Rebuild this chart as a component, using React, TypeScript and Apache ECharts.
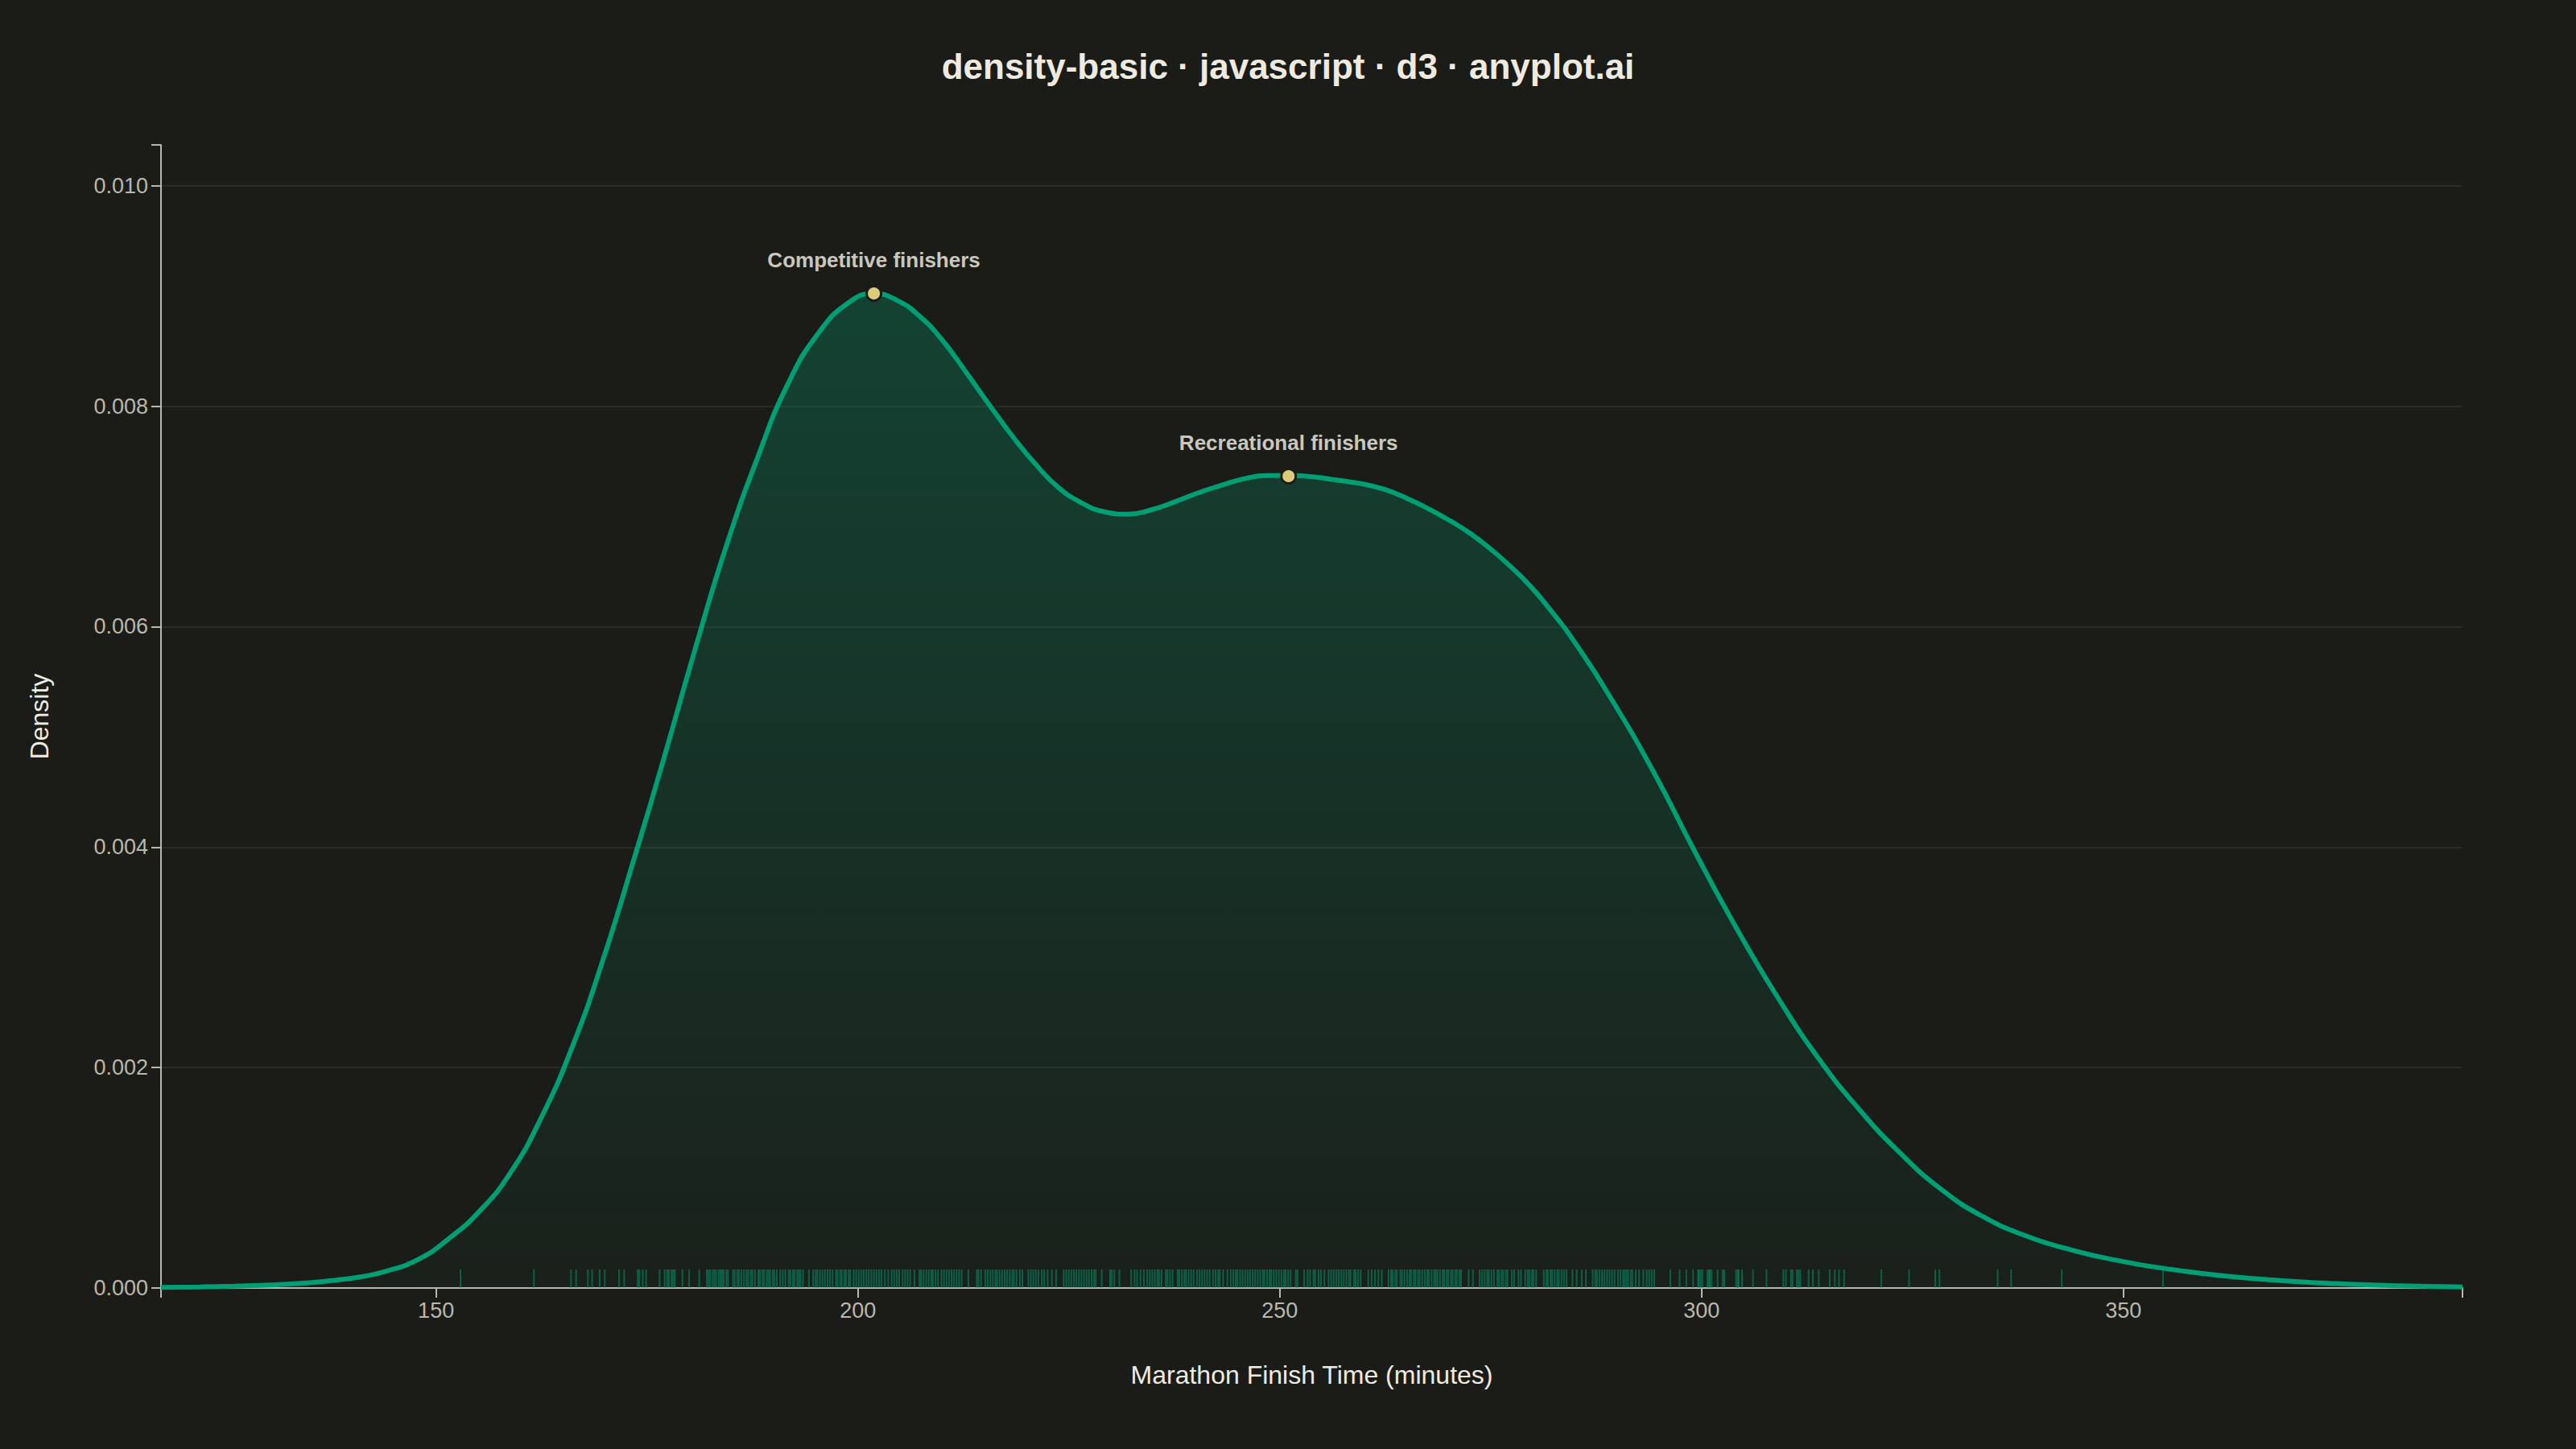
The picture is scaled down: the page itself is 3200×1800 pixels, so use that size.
import React, { useEffect, useRef } from "react";
import * as echarts from "echarts";

const FONT = '"Liberation Sans", Arial, Helvetica, sans-serif';
const BG = "#1b1c18";
const GREEN = "#009E73";

const TITLE = "density-basic · javascript · d3 · anyplot.ai";
const X_NAME = "Marathon Finish Time (minutes)";
const Y_NAME = "Density";

const X_MIN = 117.4;
const X_MAX = 390.2;
const Y_MAX = 0.01037;
const Y_STEP = 0.002;

// KDE curve (minutes, density)
const curveTimes = [
  117.4, 122, 126, 131, 135, 138, 141, 144, 147.9, 151.55, 155.2, 158.86,
  162.5, 166.16, 169.8, 173.5, 177.1, 180.8, 184.4, 188.1, 191.7, 195.4, 199.1, 201.9,
  204.65, 207.4, 210.1, 212.9, 215.6, 218.3, 221.1, 223.8, 226.6, 229.3, 232.0, 234.8,
  237.5, 240.2, 243.0, 245.7, 248.5, 251.0, 253.9, 256.7, 259.4, 262.2, 264.9, 267.6,
  270.2, 272.5, 274.9, 277.3, 279.8, 282.2, 284.6, 289.5, 294.4, 299.2, 304.1, 309.0,
  313.9, 318.7, 323.6, 328.5, 333.3, 338.2, 343.1, 348.6, 357.5, 366.3, 375.2, 383, 390.2,
];
const curveDensity = [
  0.000005, 0.00001, 0.000017, 0.00003, 0.000048, 0.00007, 0.0001, 0.00015, 0.00026, 0.00045, 0.0007, 0.00105,
  0.00155, 0.00219, 0.00298, 0.0039, 0.00483, 0.00582, 0.00673, 0.00753, 0.0082, 0.00867, 0.00895, 0.00902,
  0.00896, 0.00881, 0.00859, 0.0083, 0.00801, 0.00773, 0.00747, 0.00726, 0.00712, 0.00704, 0.00702, 0.00706,
  0.00713, 0.00721, 0.00728, 0.00734, 0.00737, 0.00737, 0.00736, 0.00733, 0.0073, 0.00725, 0.00717, 0.00707,
  0.00696, 0.00685, 0.00671, 0.00655, 0.00636, 0.00614, 0.0059, 0.00532, 0.00467, 0.00396, 0.00327, 0.00264,
  0.00208, 0.00162, 0.00122, 0.00089, 0.00065, 0.00048, 0.00036, 0.00026, 0.00015, 0.00008, 0.00004, 0.00002, 0.00001,
];

// Rug: individual finish times
const rugTimes = [
  152.9, 161.6, 166.0, 166.6, 168.0, 168.5, 169.4, 170.0, 171.7, 172.3, 173.9, 174.1, 174.5, 174.9, 176.5,
  177.1, 177.4, 177.6, 177.9, 178.1, 178.3, 179.2, 180.0, 181.2,
  182.1, 182.3, 182.5, 182.8, 183.0, 183.2, 183.5, 183.7, 183.9, 184.1, 184.4, 184.6,
  185.2, 185.4, 185.7, 185.9, 186.2, 186.5, 186.8, 187.0, 187.3, 187.5, 187.8,
  188.2, 188.4, 188.7, 188.9, 189.2, 189.4, 189.6, 189.9, 190.1, 190.4, 190.8, 191.1, 191.4,
  191.8, 192.0, 192.3, 192.5, 192.8, 193.0, 193.2, 193.5, 194.2, 194.7, 195.0, 195.2, 195.5, 195.8, 196.1,
  196.4, 196.7, 197.0, 197.4, 197.6, 197.9, 198.1, 198.4, 198.6, 198.9, 199.1,
  199.5, 199.8, 200.1, 200.4, 200.7, 201.0, 201.3, 201.6, 201.9, 202.2, 202.5, 202.8, 203.2, 203.6,
  204.0, 204.3, 204.6, 204.9, 205.3, 205.6, 205.9, 206.2, 206.7,
  207.3, 207.5, 207.8, 208.1, 208.4, 208.7, 208.9, 209.2, 209.5,
  209.9, 210.2, 210.5, 210.8, 211.1, 211.4, 211.7, 212.0, 212.3, 213.1,
  214.1, 214.3, 214.6, 215.1, 215.4, 215.7, 216.0, 216.3,
  216.5, 216.8, 217.1, 217.4, 217.7, 218.0, 218.3, 218.5, 218.8, 219.2, 219.5,
  220.2, 220.5, 220.8, 221.1, 221.4, 221.8, 222.1, 222.5, 223.0, 223.5,
  224.4, 224.7, 225.0, 225.3, 225.6, 225.9, 226.2, 226.5, 226.8, 227.1, 227.4, 227.7, 228.0, 228.2,
  228.9, 229.9, 230.1, 230.4, 231.0, 232.4, 232.8, 233.1, 233.5, 233.9, 234.3,
  234.6, 234.9, 235.2, 235.5, 235.7, 236.0, 236.5, 236.7, 237.0, 237.3,
  237.9, 238.1, 238.4, 238.7, 238.9, 239.2, 239.5, 239.8, 240.2,
  240.5, 240.8, 241.1, 241.4, 241.7, 242.1, 242.4, 242.7, 242.9, 243.3, 243.8,
  244.2, 244.5, 244.8, 245.0, 245.3, 245.6, 245.9, 246.2, 246.5, 246.8, 247.1, 247.4, 247.7, 248.0, 248.2, 248.5, 248.8, 249.0,
  249.3, 249.6, 249.9, 250.2, 250.5, 250.7, 251.0, 251.3, 251.9, 252.1,
  252.9, 253.3, 253.6, 254.0, 254.2, 254.6, 254.9, 255.3,
  255.8, 256.1, 256.4, 256.7, 257.0, 257.3, 257.6, 257.9, 258.2, 258.4,
  258.8, 259.0, 259.3, 259.6, 260.5, 260.9, 261.3, 261.7, 262.1,
  262.9, 263.2, 263.4, 263.7, 263.9,
  264.3, 264.5, 264.8, 265.1, 265.4, 265.6, 265.9, 266.1, 266.4,
  266.6, 266.9, 267.2, 267.5, 267.7, 268.0, 268.3,
  268.5, 268.7, 269.0, 269.3, 269.5, 269.8, 270.0, 270.3,
  270.5, 270.8, 271.0, 271.3, 271.5, 272.4, 272.9,
  273.7, 274.0, 274.3, 274.6, 274.8, 275.1, 275.4,
  275.8, 276.0, 276.3, 276.5, 276.8, 277.0, 277.5, 277.8, 278.3, 278.6,
  279.1, 279.4, 279.6, 279.9, 280.1, 280.4,
  281.3, 281.6, 281.8, 282.1, 282.3, 282.6, 282.9, 283.1, 283.4, 283.7,
  284.0, 284.7, 285.2, 285.8, 286.3,
  287.1, 287.4, 287.6, 287.9, 288.2, 288.5, 288.8, 289.1, 289.4, 289.7, 290.1, 290.4,
  290.7, 290.9, 291.1, 291.3, 291.6, 291.8, 292.2, 292.6, 293.1,
  293.5, 293.8, 294.1, 294.4, 296.3, 297.4, 298.2,
  299.0, 299.6, 299.7, 299.9, 300.1, 300.7, 300.9, 301.0, 301.2, 301.9, 302.5, 302.7,
  304.1, 304.3, 304.4, 304.8, 306.1, 307.7, 309.7, 310.0, 310.6, 310.8, 311.3, 311.5, 311.7,
  312.7, 313.2, 313.9, 315.2, 315.8, 316.3, 316.9, 321.3, 324.6, 327.7, 328.2,
  335.1, 336.7, 342.7, 354.7,
];

// Annotated modes
const peakNames = ["Competitive finishers", "Recreational finishers"];
const peakTimes = [201.9, 251.05];
const peakDensity = [0.009022, 0.007365];

const xLabelValues = [150, 200, 250, 300, 350];

export default function App() {
  const ref = useRef<HTMLDivElement>(null);

  useEffect(() => {
    document.body.style.margin = "0";
    document.body.style.background = BG;
    document.body.style.overflow = "hidden";
    if (!ref.current) return;
    const chart = echarts.init(ref.current, null, { renderer: "svg" });

    const axisColor = "#b9b7ae";
    const option = {
      animation: false,
      backgroundColor: BG,
      textStyle: { fontFamily: FONT },
      title: {
        text: TITLE,
        left: "center",
        top: 55,
        textStyle: { color: "#efeae0", fontSize: 44, fontWeight: "bold", fontFamily: FONT },
      },
      grid: { left: 200, right: 141, top: 180, bottom: 200 },
      xAxis: {
        type: "value",
        min: X_MIN,
        max: X_MAX,
        splitNumber: 5,
        name: X_NAME,
        nameLocation: "middle",
        nameGap: 92,
        nameTextStyle: { color: "#ecebe4", fontSize: 32, fontFamily: FONT },
        axisLine: { show: true, onZero: false, lineStyle: { color: axisColor, width: 2 } },
        axisTick: { show: true, length: 12, lineStyle: { color: axisColor, width: 2 } },
        axisLabel: {
          color: axisColor,
          fontSize: 27,
          margin: 14,
          fontFamily: FONT,
          formatter: (v: number) => (xLabelValues.some((x) => Math.abs(x - v) < 1e-6) ? String(v) : ""),
        },
        splitLine: { show: false },
      },
      yAxis: {
        type: "value",
        min: 0,
        max: Y_MAX,
        interval: Y_STEP,
        name: Y_NAME,
        nameLocation: "middle",
        nameGap: 135,
        nameTextStyle: { color: "#ecebe4", fontSize: 32, fontFamily: FONT },
        axisLine: { show: true, onZero: false, lineStyle: { color: axisColor, width: 2 } },
        axisTick: { show: true, length: 12, lineStyle: { color: axisColor, width: 2 } },
        axisLabel: {
          color: axisColor,
          fontSize: 27,
          margin: 16,
          fontFamily: FONT,
          formatter: (v: number) => (v > 0.0101 ? "" : v.toFixed(3)),
        },
        splitLine: {
          show: true,
          showMinLine: false,
          showMaxLine: false,
          lineStyle: { color: "#30312c", width: 1.5 },
        },
      },
      series: [
        {
          type: "line",
          data: curveTimes.map((t, i) => [t, curveDensity[i]]),
          smooth: 0.5,
          symbol: "none",
          silent: true,
          z: 2,
          lineStyle: { color: GREEN, width: 6 },
          areaStyle: {
            color: new echarts.graphic.LinearGradient(0, 0, 0, 1, [
              { offset: 0, color: "rgba(0,158,115,0.42)" },
              { offset: 1, color: "rgba(0,158,115,0.05)" },
            ]),
          },
        },
        {
          type: "scatter",
          data: rugTimes.map((t) => [t, 0]),
          symbol: "rect",
          symbolSize: [2, 23],
          symbolOffset: [0, -11.5],
          silent: true,
          clip: false,
          z: 3,
          itemStyle: { color: GREEN, opacity: 0.5 },
        },
        {
          type: "scatter",
          data: peakNames.map((n, i) => ({ name: n, value: [peakTimes[i], peakDensity[i]] })),
          symbol: "circle",
          symbolSize: 18,
          silent: true,
          z: 5,
          itemStyle: { color: "#dccb78", borderColor: BG, borderWidth: 3, opacity: 1 },
          label: {
            show: true,
            position: "top",
            distance: 18,
            formatter: "{b}",
            color: "#c9c7be",
            fontSize: 26,
            fontWeight: "bold",
            fontFamily: FONT,
          },
        },
      ],
    };

    chart.setOption(option as any);
    return () => chart.dispose();
  }, []);

  return <div ref={ref} style={{ width: 3200, height: 1800 }} />;
}
